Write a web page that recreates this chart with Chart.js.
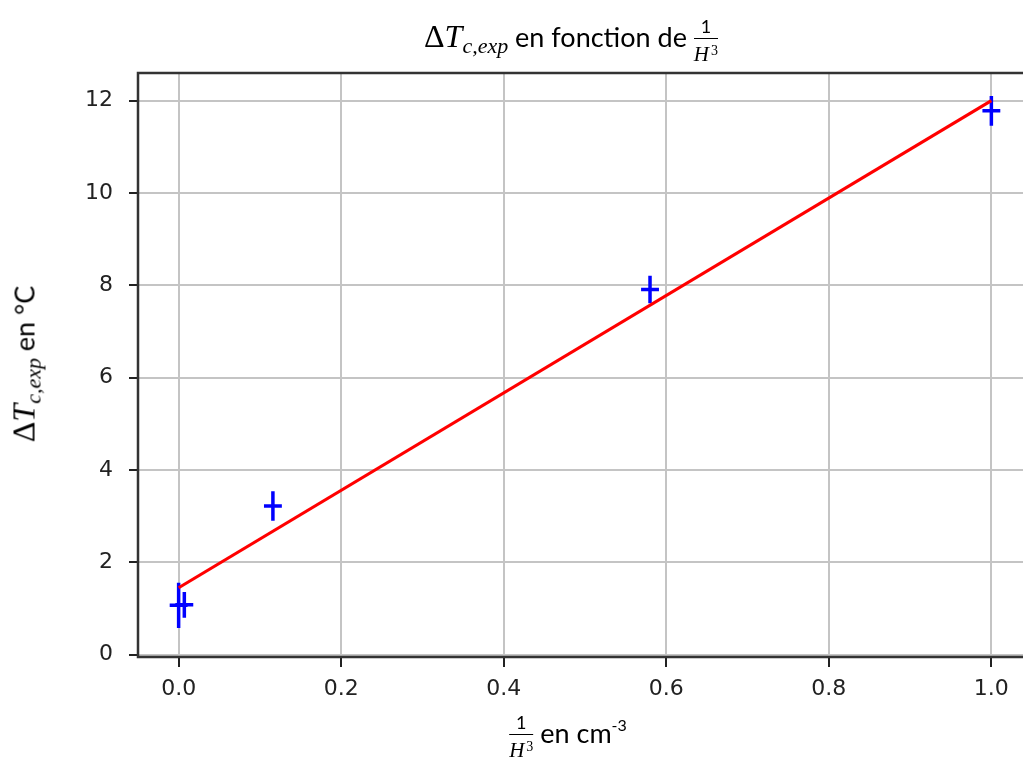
<!DOCTYPE html>
<html>
<head>
<meta charset="utf-8">
<script src="https://cdn.jsdelivr.net/npm/chart.js@4/dist/chart.umd.min.js"></script>
<style>
  html, body { margin: 0; padding: 0; background: #fff; overflow: hidden; width: 1023px; height: 760px; }
  #wrap { position: absolute; left: 0; top: 0; width: 1060px; height: 760px; }
  .lbl { position: absolute; font-family: Lato, "Open Sans", sans-serif; font-size: 27px; color: #000; white-space: nowrap; line-height: 1; }
  .m { font-family: "Liberation Serif", serif; font-style: italic; font-size: 32px; }
  .m sub { font-size: 22px; vertical-align: -6px; }
  .up { font-family: "Liberation Serif", serif; font-style: normal; }
  .frac { display: inline-block; vertical-align: middle; text-align: center; line-height: 19px; }
  .frac .num { display: block; border-bottom: 1.6px solid #000; padding: 0 4px 2px; font-family: Lato, sans-serif; font-size: 18px; }
  .frac .den { display: block; padding-top: 2px; font-family: "Liberation Serif", serif; font-style: italic; font-size: 21px; }
  .frac .den sup { font-style: normal; font-size: 14px; vertical-align: 6px; margin-left: 2px; }
</style>
</head>
<body>
<div id="wrap"><canvas id="graf" width="1060" height="760"></canvas></div>

<div class="lbl" id="titre" style="left:571px; top:17px; transform:translateX(-50%);">
  <span class="m"><span class="up">Δ</span>T<sub>c,exp</sub></span> en fonction de
  <span class="frac"><span class="num">1</span><span class="den">H<sup>3</sup></span></span>
</div>

<div class="lbl" id="xlabel" style="left:568px; top:713px; transform:translateX(-50%);">
  <span class="frac"><span class="num">1</span><span class="den">H<sup>3</sup></span></span>
  en cm<sup style="font-size:16px; vertical-align:12px;">-3</sup>
</div>

<div class="lbl" id="ylabel" style="left:26px; top:364px; transform:translate(-50%,-50%) rotate(-90deg);">
  <span class="m"><span class="up">Δ</span>T<sub>c,exp</sub></span> en °C
</div>

<script>
// mesures
const xVals = [0.0, 0.007, 0.116, 0.58, 1.0]
const yVals = [1.07, 1.08, 3.22, 7.91, 11.78]
const xErr = [0.011, 0.011, 0.011, 0.011, 0.011]
const yErr = [0.49, 0.28, 0.32, 0.30, 0.32]

// droite de regression
const fitX = [0.0, 1.0]
const fitY = [1.45, 12.0]

const xTicks = [0.0, 0.2, 0.4, 0.6, 0.8, 1.0]
const yTicks = [0, 2, 4, 6, 8, 10, 12]

const tickFont = { family: "DejaVu Sans", size: 22 }

// barres d'erreur (dessinees avec les echelles du graphique)
const errorBars = {
  id: "errorBars",
  beforeDatasetsDraw(chart) {
    const ctx = chart.ctx
    const sx = chart.scales.x
    const sy = chart.scales.y
    ctx.save()
    ctx.strokeStyle = "#0000ff"
    ctx.lineWidth = 3.5
    for (let i = 0; i < xVals.length; i++) {
      const px = sx.getPixelForValue(xVals[i])
      const py = sy.getPixelForValue(yVals[i])
      ctx.beginPath()
      ctx.moveTo(px, sy.getPixelForValue(yVals[i] - yErr[i]))
      ctx.lineTo(px, sy.getPixelForValue(yVals[i] + yErr[i]))
      ctx.moveTo(sx.getPixelForValue(xVals[i] - xErr[i]), py)
      ctx.lineTo(sx.getPixelForValue(xVals[i] + xErr[i]), py)
      ctx.stroke()
    }
    ctx.restore()
  }
}

// cadre autour de la zone du graphique
const cadre = {
  id: "cadre",
  afterDraw(chart) {
    const a = chart.chartArea
    const ctx = chart.ctx
    ctx.save()
    ctx.strokeStyle = "#333"
    ctx.lineWidth = 2.5
    ctx.strokeRect(a.left, a.top, a.right - a.left, a.bottom - a.top)
    ctx.restore()
  }
}

new Chart(document.getElementById("graf"), {
  type: "scatter",
  data: {
    datasets: [
      {
        label: "mesures",
        data: xVals.map((x, i) => ({ x: x, y: yVals[i] })),
        pointRadius: 0,
        showLine: false
      },
      {
        label: "fit",
        data: fitX.map((x, i) => ({ x: x, y: fitY[i] })),
        showLine: true,
        borderColor: "#ff0000",
        borderWidth: 3.2,
        pointRadius: 0
      }
    ]
  },
  options: {
    responsive: false,
    animation: false,
    layout: { padding: { left: 0, top: 73, right: 28, bottom: 0 } },
    plugins: { legend: { display: false }, tooltip: { enabled: false }, title: { display: false } },
    scales: {
      x: {
        type: "linear",
        min: -0.05,
        max: 1.05,
        afterFit: s => { s.height = 103 },
        afterBuildTicks: s => { s.ticks = xTicks.map(v => ({ value: v })) },
        ticks: {
          font: tickFont,
          color: "#222",
          padding: 9,
          callback: v => v.toFixed(1)
        },
        grid: { color: "#c4c4c4", lineWidth: 2, tickColor: "#222", tickWidth: 2, tickLength: 10 },
        border: { display: false }
      },
      y: {
        type: "linear",
        min: -0.05,
        max: 12.6,
        afterFit: s => { s.width = 138 },
        afterBuildTicks: s => { s.ticks = yTicks.map(v => ({ value: v })) },
        ticks: {
          font: tickFont,
          color: "#222",
          padding: 16,
          callback: v => String(v)
        },
        grid: { color: "#c4c4c4", lineWidth: 2, tickColor: "#222", tickWidth: 2, tickLength: 9 },
        border: { display: false }
      }
    }
  },
  plugins: [errorBars, cadre]
})
</script>
</body>
</html>
